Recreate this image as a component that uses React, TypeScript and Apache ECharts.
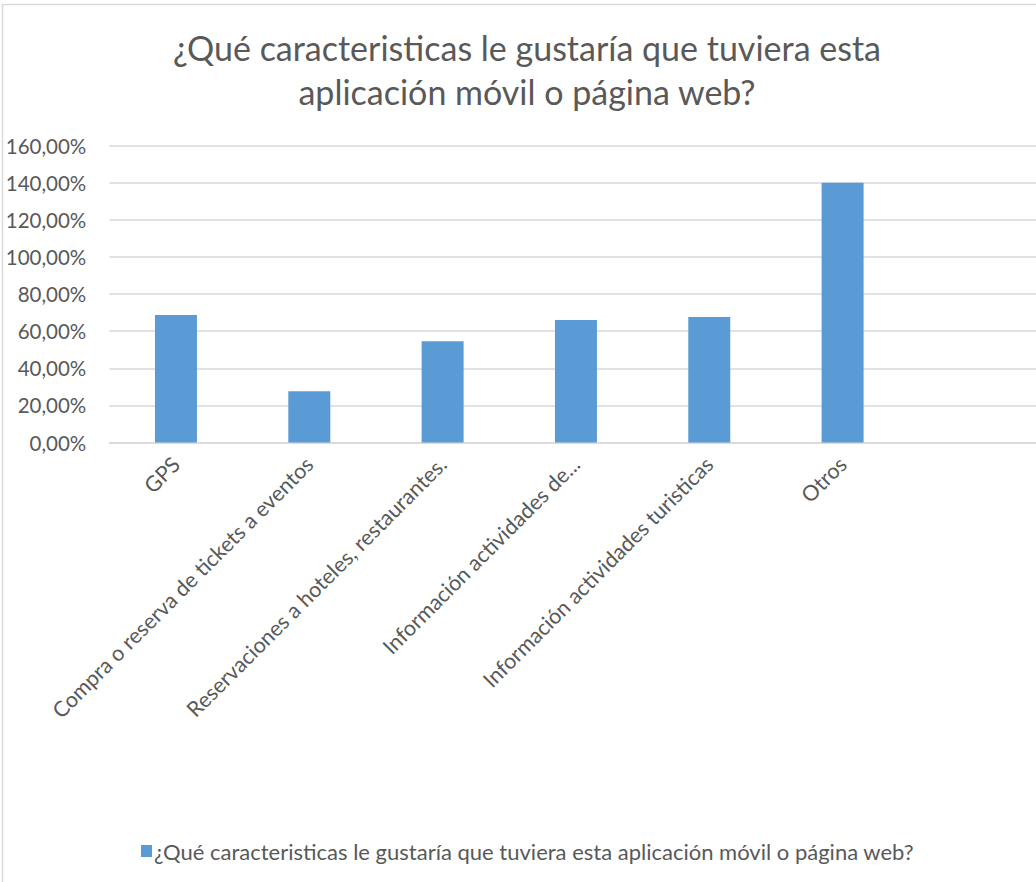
import React, { useEffect, useRef } from "react";
import * as echarts from "echarts";

const titleText = "¿Qué caracteristicas le gustaría que tuviera esta\naplicación móvil o página web?";
const seriesName = "¿Qué caracteristicas le gustaría que tuviera esta aplicación móvil o página web?";
const categories = [
  "GPS",
  "Compra o reserva de tickets a eventos",
  "Reservaciones a hoteles, restaurantes.",
  "Información actividades de...",
  "Información actividades turisticas",
  "Otros",
  "",
];
const values: (number | null)[] = [68.7, 27.6, 54.6, 66.0, 67.7, 140.0, null];
const yMin = 0;
const yMax = 160;
const yInterval = 20;

const FONT = "Lato";
const TXT = "#595959";

export default function App() {
  const ref = useRef<HTMLDivElement>(null);
  useEffect(() => {
    if (!ref.current) return;
    const chart = echarts.init(ref.current, undefined, { renderer: "svg" });
    chart.setOption({
      animation: false,
      backgroundColor: "#ffffff",
      textStyle: { fontFamily: FONT },
      title: {
        text: titleText,
        left: 522,
        top: 20,
        textAlign: "center",
        textStyle: {
          fontFamily: FONT,
          fontWeight: "normal",
          fontSize: 34,
          color: TXT,
          lineHeight: 44,
        },
      },
      graphic: [
        {
          type: "rect",
          shape: { x: 2.5, y: 4.5, width: 1200, height: 1200 },
          style: { fill: "none", stroke: "#d9d9d9", lineWidth: 1.5 },
          silent: true,
        },
      ],
      legend: {
        show: true,
        top: 835,
        left: 136,
        itemWidth: 11,
        itemHeight: 12,
        icon: "rect",
        textStyle: { color: TXT, fontSize: 22, fontFamily: FONT, padding: [0, 0, 0, -3] },
        data: [seriesName],
      },
      grid: { left: 109.3, top: 145.7, width: 933.3, height: 296.8, containLabel: false },
      xAxis: {
        type: "category",
        data: categories,
        axisLine: { show: true, lineStyle: { color: "#d9d9d9", width: 1.5 } },
        axisTick: { show: false },
        axisLabel: {
          interval: 0,
          rotate: 45,
          margin: 18,
          color: TXT,
          fontSize: 21.5,
          fontFamily: FONT,
        },
      },
      yAxis: {
        type: "value",
        min: yMin,
        max: yMax,
        interval: yInterval,
        axisLine: { show: false },
        axisTick: { show: false },
        splitLine: { lineStyle: { color: "#d9d9d9", width: 1.5 } },
        axisLabel: {
          margin: 23,
          color: TXT,
          fontSize: 20.5,
          fontFamily: FONT,
          formatter: (v: number) => v.toFixed(2).replace(".", ",") + "%",
        },
      },
      series: [
        {
          name: seriesName,
          type: "bar",
          data: values,
          barWidth: 42,
          itemStyle: { color: "#5b9bd5" },
        },
      ],
    });
    return () => chart.dispose();
  }, []);
  return (
    <div style={{ position: "fixed", left: 0, top: 0, width: 1036, height: 882, overflow: "hidden", background: "#fff" }}>
      <div ref={ref} style={{ width: 1060, height: 900 }} />
    </div>
  );
}
